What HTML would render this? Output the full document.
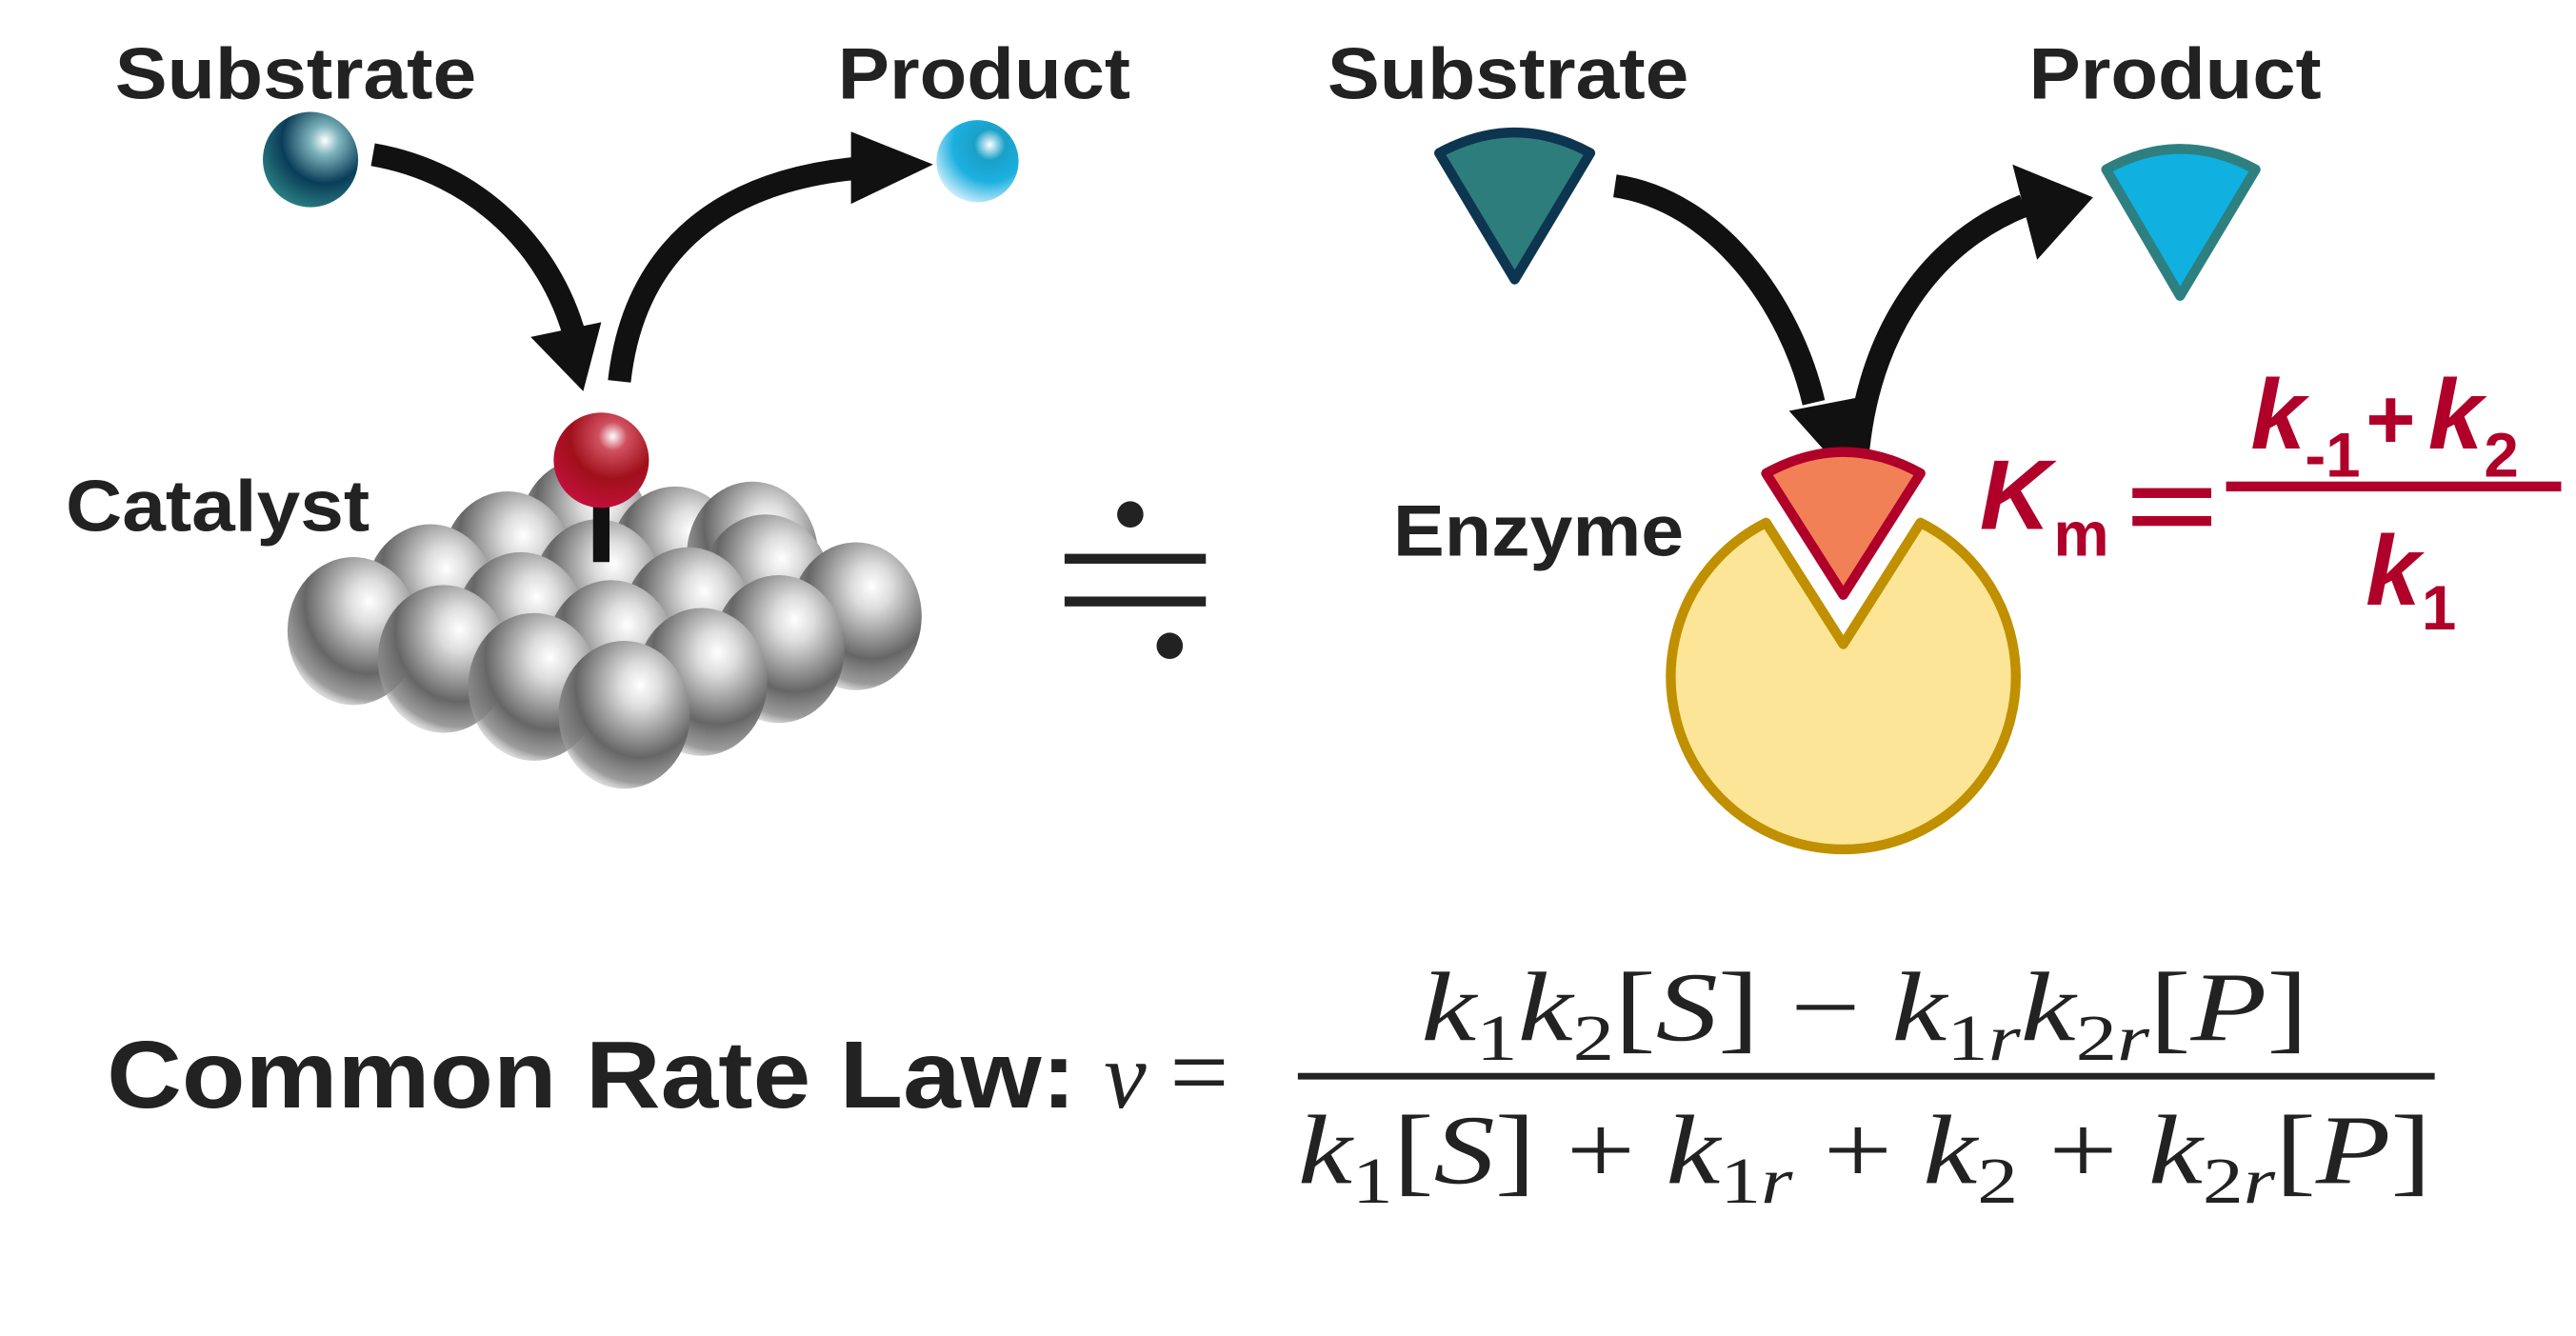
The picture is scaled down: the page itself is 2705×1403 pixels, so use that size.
<!DOCTYPE html>
<html><head><meta charset="utf-8"><style>
html,body{margin:0;padding:0;background:#fff;}
svg{display:block;}
.lbl{font-family:"Liberation Sans",sans-serif;font-weight:bold;fill:#222;}
.red{font-family:"Liberation Sans",sans-serif;font-weight:bold;font-style:italic;fill:#b0002a;}
.up{font-style:normal;}
.m{font-family:"Liberation Serif",serif;font-style:italic;fill:#222;}
.mu{font-family:"Liberation Serif",serif;fill:#222;}
</style></head><body>
<svg width="2705" height="1403" viewBox="0 0 1568 813" xmlns="http://www.w3.org/2000/svg">
<defs>
<radialGradient id="gs" cx="0.62" cy="0.3" r="0.75">
<stop offset="0" stop-color="#fff"/><stop offset="0.2" stop-color="#ddd"/><stop offset="0.65" stop-color="#666"/><stop offset="0.88" stop-color="#8a8a8a" stop-opacity="0.85"/><stop offset="1" stop-color="#bbb" stop-opacity="0.3"/>
</radialGradient>
<radialGradient id="gt" cx="0.65" cy="0.3" r="0.75">
<stop offset="0" stop-color="#fff"/><stop offset="0.2" stop-color="#7fb5bd"/><stop offset="0.6" stop-color="#0a3d58"/><stop offset="1" stop-color="#2a7f82"/>
</radialGradient>
<radialGradient id="gb" cx="0.65" cy="0.3" r="0.75">
<stop offset="0" stop-color="#fff"/><stop offset="0.25" stop-color="#1aa0c8"/><stop offset="0.6" stop-color="#1cb0e0"/><stop offset="1" stop-color="#cdeefa"/>
</radialGradient>
<radialGradient id="gr" cx="0.62" cy="0.25" r="0.75">
<stop offset="0" stop-color="#fff"/><stop offset="0.2" stop-color="#d05060"/><stop offset="0.6" stop-color="#a0101a"/><stop offset="1" stop-color="#c0103a"/>
</radialGradient>
</defs>

<text class="lbl" x="70" y="60" font-size="44" textLength="220" lengthAdjust="spacingAndGlyphs">Substrate</text>
<text class="lbl" x="510" y="60" font-size="44" textLength="178" lengthAdjust="spacingAndGlyphs">Product</text>
<text class="lbl" x="40" y="323" font-size="44" textLength="185" lengthAdjust="spacingAndGlyphs">Catalyst</text>
<text class="lbl" x="808" y="60" font-size="44" textLength="220" lengthAdjust="spacingAndGlyphs">Substrate</text>
<text class="lbl" x="1235" y="60" font-size="44" textLength="178" lengthAdjust="spacingAndGlyphs">Product</text>
<text class="lbl" x="848" y="338" font-size="44" textLength="177" lengthAdjust="spacingAndGlyphs">Enzyme</text>

<circle cx="189" cy="97" r="29" fill="url(#gt)"/>
<circle cx="595" cy="98" r="25" fill="url(#gb)"/>

<path d="M227,94 C290,105 335,150 350,205" fill="none" stroke="#111" stroke-width="14"/>
<polygon points="323,205 366,196 355,238" fill="#111"/>
<path d="M377,232 C385,160 430,110 525,102" fill="none" stroke="#111" stroke-width="14"/>
<polygon points="518,80 568,100 518,124" fill="#111"/>

<g>
<ellipse cx="356" cy="324" rx="40" ry="45" fill="url(#gs)"/>
<ellipse cx="309" cy="344" rx="40" ry="45" fill="url(#gs)"/>
<ellipse cx="411" cy="341" rx="40" ry="45" fill="url(#gs)"/>
<ellipse cx="458" cy="338" rx="40" ry="45" fill="url(#gs)"/>
<ellipse cx="262" cy="364" rx="40" ry="45" fill="url(#gs)"/>
<ellipse cx="364" cy="361" rx="40" ry="45" fill="url(#gs)"/>
<ellipse cx="466" cy="358" rx="40" ry="45" fill="url(#gs)"/>
<ellipse cx="521" cy="375" rx="40" ry="45" fill="url(#gs)"/>
<ellipse cx="215" cy="384" rx="40" ry="45" fill="url(#gs)"/>
<ellipse cx="317" cy="381" rx="40" ry="45" fill="url(#gs)"/>
<ellipse cx="419" cy="378" rx="40" ry="45" fill="url(#gs)"/>
<ellipse cx="474" cy="395" rx="40" ry="45" fill="url(#gs)"/>
<ellipse cx="270" cy="401" rx="40" ry="45" fill="url(#gs)"/>
<ellipse cx="372" cy="398" rx="40" ry="45" fill="url(#gs)"/>
<ellipse cx="427" cy="415" rx="40" ry="45" fill="url(#gs)"/>
<ellipse cx="325" cy="418" rx="40" ry="45" fill="url(#gs)"/>
<ellipse cx="380" cy="435" rx="40" ry="45" fill="url(#gs)"/>
</g>
<rect x="361" y="298" width="10" height="44" fill="#111"/>
<circle cx="366" cy="280" r="29" fill="url(#gr)"/>

<circle cx="688" cy="313" r="8" fill="#222"/>
<rect x="648" y="337" width="86" height="6" fill="#222"/>
<rect x="648" y="363" width="86" height="6" fill="#222"/>
<circle cx="712" cy="393" r="8" fill="#222"/>

<path d="M876,93 Q922,68 968,93 L922,170 Z" fill="#2e7d7d" stroke="#0d3550" stroke-width="6" stroke-linejoin="round"/>
<path d="M1282,103 Q1327,78 1373,103 L1327,180 Z" fill="#10b0e0" stroke="#2e8080" stroke-width="6" stroke-linejoin="round"/>

<path d="M983,113 C1045,122 1090,185 1104,245" fill="none" stroke="#111" stroke-width="14"/>
<polygon points="1089,250 1130,242 1122,287" fill="#111"/>
<path d="M1130,287 C1134,210 1170,150 1232,125" fill="none" stroke="#111" stroke-width="14"/>
<polygon points="1225,100 1274,120 1240,158" fill="#111"/>

<path d="M1075,318 L1122,392 L1169,318 A105,105 0 1 1 1075,318 Z" fill="#fde597" stroke="#c09000" stroke-width="6" stroke-linejoin="round"/>
<path d="M1075,288 Q1122,262 1169,288 L1122,362 Z" fill="#f28057" stroke="#b0002a" stroke-width="6" stroke-linejoin="round"/>

<text class="red" x="1205" y="322" font-size="60">K</text>
<text class="red up" x="1250" y="338" font-size="38">m</text>
<rect x="1298" y="297" width="48" height="6" fill="#b0002a"/>
<rect x="1298" y="314" width="48" height="6" fill="#b0002a"/>
<rect x="1355" y="293" width="204" height="6" fill="#b0002a"/>
<text class="red" x="1370" y="273" font-size="60">k</text>
<text class="red up" x="1403" y="290" font-size="38">-1</text>
<text class="red up" x="1440" y="273" font-size="52">+</text>
<text class="red" x="1478" y="273" font-size="60">k</text>
<text class="red up" x="1512" y="290" font-size="38">2</text>
<text class="red" x="1440" y="368" font-size="60">k</text>
<text class="red up" x="1474" y="383" font-size="38">1</text>

<text class="lbl" x="65" y="674" font-size="58" textLength="590" lengthAdjust="spacingAndGlyphs">Common Rate Law:</text>
<text class="m" x="672" y="674" font-size="58">v</text>
<text class="mu" x="712" y="674" font-size="64">=</text>
<rect x="790" y="653" width="692" height="4" fill="#222"/>
<text class="m" x="865" y="633" font-size="60" textLength="540" lengthAdjust="spacingAndGlyphs">k<tspan font-size="40" dy="12" font-style="normal">1</tspan><tspan dy="-12">k</tspan><tspan font-size="40" dy="12" font-style="normal">2</tspan><tspan dy="-12" font-style="normal">[</tspan>S<tspan font-style="normal">] − </tspan>k<tspan font-size="40" dy="12" font-style="normal">1</tspan><tspan font-size="40">r</tspan><tspan dy="-12">k</tspan><tspan font-size="40" dy="12" font-style="normal">2</tspan><tspan font-size="40">r</tspan><tspan dy="-12" font-style="normal">[</tspan>P<tspan font-style="normal">]</tspan></text>
<text class="m" x="790" y="720" font-size="60" textLength="690" lengthAdjust="spacingAndGlyphs">k<tspan font-size="40" dy="12" font-style="normal">1</tspan><tspan dy="-12" font-style="normal">[</tspan>S<tspan font-style="normal">] + </tspan>k<tspan font-size="40" dy="12" font-style="normal">1</tspan><tspan font-size="40">r</tspan><tspan dy="-12" font-style="normal"> + </tspan>k<tspan font-size="40" dy="12" font-style="normal">2</tspan><tspan dy="-12" font-style="normal"> + </tspan>k<tspan font-size="40" dy="12" font-style="normal">2</tspan><tspan font-size="40">r</tspan><tspan dy="-12" font-style="normal">[</tspan>P<tspan font-style="normal">]</tspan></text>
</svg>
</body></html>
